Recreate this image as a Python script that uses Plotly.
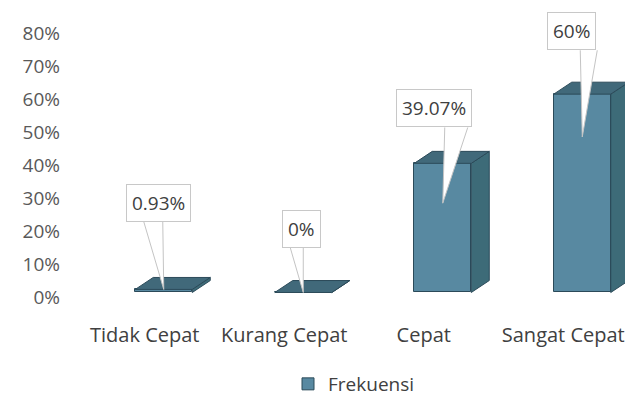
import plotly.graph_objects as go

# data
categories = ["Tidak Cepat", "Kurang Cepat", "Cepat", "Sangat Cepat"]
values = [0.93, 0, 39.07, 60]
value_labels = ["0.93%", "0%", "39.07%", "60%"]
series_name = "Frekuensi"
y_ticks = [0, 10, 20, 30, 40, 50, 60, 70, 80]
y_tick_text = ["0%", "10%", "20%", "30%", "40%", "50%", "60%", "70%", "80%"]

# page / axis geometry (the page body adds 8px margin, so the figure is 8px smaller)
W, H = 625, 395
ML, MR, MT, MB = 67, 0, 25, 88
x_range = [-0.5, 3.5]
y_range = [-5, 80]
ux = (x_range[1] - x_range[0]) / (W - ML - MR)   # data units per pixel
uy = (y_range[1] - y_range[0]) / (H - MT - MB)

# fake 3d look (pixels)
front_w = 57
front_shift = 19
depth_x, depth_y = 18, 12
lift = 5 * uy

col_front = "#5889a1"
col_side = "#3d6b78"
col_top = "#41697a"
col_edge = "#2b4a59"

# callout placement (pixels)
box_dx = [14, 17, 10, 8]
box_rise = [68, 45, 36, 44]
tip_drop = [0, 0, 40, 43]
wedge_base = [(-20, -1), (-13, 0), (2, 25), (-2, 15)]

fig = go.Figure()

fig.add_trace(go.Bar(
    x=list(range(len(categories))),
    y=values,
    base=lift,
    width=front_w * ux,
    offset=(front_shift - front_w / 2) * ux,
    name=series_name,
    marker=dict(color=col_front, line=dict(color=col_edge, width=1)),
    showlegend=True,
))

for i, v in enumerate(values):
    x0 = i + (front_shift - front_w / 2) * ux
    x1 = x0 + front_w * ux
    top = lift + v
    dx, dy = depth_x * ux, depth_y * uy
    # side face
    fig.add_trace(go.Scatter(
        x=[x1, x1 + dx, x1 + dx, x1, x1],
        y=[lift, lift + dy, top + dy, top, lift],
        fill="toself", fillcolor=col_side, mode="lines",
        line=dict(color=col_edge, width=1), showlegend=False, hoverinfo="skip"))
    # top face
    fig.add_trace(go.Scatter(
        x=[x0, x1, x1 + dx, x0 + dx, x0],
        y=[top, top, top + dy, top + dy, top],
        fill="toself", fillcolor=col_top, mode="lines",
        line=dict(color=col_edge, width=1), showlegend=False, hoverinfo="skip"))

# callout wedges + boxes
for i, v in enumerate(values):
    top = lift + v
    tip_x = i + front_shift * ux
    tip_y = top - tip_drop[i] * uy
    box_y = top + box_rise[i] * uy
    bl, br = wedge_base[i]
    fig.add_trace(go.Scatter(
        x=[tip_x + bl * ux, tip_x, tip_x + br * ux],
        y=[box_y, tip_y, box_y],
        fill="toself", fillcolor="white", mode="lines",
        line=dict(color="#c4c4c4", width=1), showlegend=False, hoverinfo="skip"))
    fig.add_annotation(
        x=i + box_dx[i] * ux, y=box_y, xref="x", yref="y",
        text=value_labels[i], showarrow=False,
        xanchor="center", yanchor="bottom",
        font=dict(size=19, color="#404040", family="Open Sans"),
        bgcolor="white", bordercolor="#c8c8c8", borderwidth=1, borderpad=5)

fig.update_layout(
    width=W, height=H,
    margin=dict(l=ML, r=MR, t=MT, b=MB),
    paper_bgcolor="white", plot_bgcolor="white",
    font=dict(family="Open Sans", size=19, color="#404040"),
    bargap=0,
    legend=dict(orientation="h", x=0.5, xanchor="center", y=-0.25, yanchor="middle",
                font=dict(size=19, color="#404040")),
    xaxis=dict(range=x_range, tickvals=list(range(len(categories))), ticktext=categories,
               showgrid=False, zeroline=False, showline=False, ticks="",
               ticklabelstandoff=7, tickfont=dict(size=20, color="#404040")),
    yaxis=dict(range=y_range, tickvals=y_ticks, ticktext=y_tick_text,
               showgrid=False, zeroline=False, showline=False, ticks="",
               ticklabelstandoff=14,
               tickfont=dict(size=19, color="#595959")),
)

fig.write_html("out.html")
